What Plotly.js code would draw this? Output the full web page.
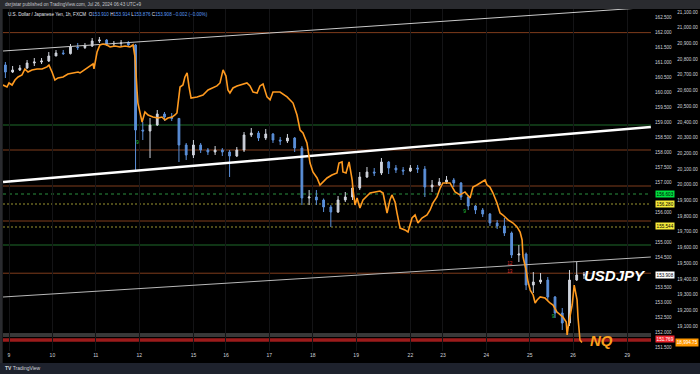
<!DOCTYPE html>
<html>
<head>
<meta charset="utf-8">
<script src="https://cdn.plot.ly/plotly-3.0.1.min.js"></script>
<style>
html,body{margin:0;padding:0;background:#000;}
#chart{width:700px;height:374px;}
</style>
</head>
<body>
<div id="chart"></div>
<script>
// ---- X axis: hourly bar index (TradingView-style, weekend removed), day labels ----
const dayTickBars = [0,24,48,72,102,120,144,168,192,222,240,264,288,312,342];
const dayTickLabels = ['9','10','11','12','15','16','17','18','19','22','23','24','25','26','29'];

// ---- Price-scale tick values (those hidden behind price boxes are left out, as in the reference) ----
const jpyTicks = [151.5,152.0,152.5,153.0,153.5,154.5,155.0,156.0,157.0,157.5,158.0,158.5,159.0,159.5,160.0,160.5,161.0,161.5,162.0,162.5];
const nqTicks = [19100,19200,19300,19400,19500,19600,19700,19800,19900,20000,20100,20200,20300,20400,20500,20600,20700,20800,20900,21000,21100];

// ---- USDJPY, 4h candles (bar index) ----
const jpyTime = [-2,2,6,10,14,18,22,26,30,34,38,42,46,50,54,58,62,66,70,74,78,82,86,90,94,98,102,106,110,114,118,122,126,130,134,138,142,146,150,154,158,162,166,170,174,178,182,186,190,194,198,202,206,210,214,218,222,226,230,234,238,242,246,250,254,258,262,266,270,274,278,282,286,290,294,298,302,306,310,314,318];
const jpyOpen = [160.900,160.667,160.733,160.800,160.967,161.000,161.033,161.200,161.300,161.280,
161.500,161.480,161.533,161.700,161.733,161.600,161.620,161.633,161.567,158.733,
158.700,158.900,159.267,159.167,159.120,158.233,157.900,158.233,158.067,158.000,
158.067,158.000,157.867,158.067,158.567,158.633,158.467,158.600,158.400,158.367,
158.467,158.133,156.467,156.500,156.400,156.167,156.000,156.400,156.500,156.800,
157.167,157.333,157.300,157.667,157.467,157.400,157.367,157.467,157.433,156.833,
156.900,157.000,157.067,156.967,156.500,156.200,156.067,155.933,155.633,155.533,
155.300,154.567,154.600,153.567,153.667,153.733,153.167,152.633,152.300,153.733,153.900];
const jpyHigh = [161.000,160.867,160.900,161.067,161.133,161.133,161.333,161.400,161.400,161.600,
161.633,161.633,161.800,161.833,161.767,161.700,161.733,161.700,161.600,159.000,
159.133,159.400,159.333,159.300,159.133,158.300,158.400,158.300,158.133,158.200,
158.133,158.067,158.167,158.667,158.800,158.700,158.767,158.633,158.500,158.600,
158.500,158.200,156.733,156.733,156.450,156.233,156.533,156.667,156.900,157.333,
157.500,157.467,157.800,157.700,157.567,157.500,157.567,157.567,157.533,157.067,
157.133,157.200,157.133,157.000,156.550,156.233,156.133,155.967,155.733,155.800,
155.350,154.900,154.650,154.000,153.967,153.833,153.200,152.800,154.067,154.333,154.000];
const jpyLow = [160.467,160.633,160.700,160.767,160.867,160.933,161.000,161.200,161.233,161.250,
161.400,161.433,161.500,161.633,161.533,161.500,161.533,161.500,157.400,158.400,
157.800,158.867,159.033,159.033,157.667,157.733,157.800,157.967,157.900,157.900,
157.867,157.167,157.833,158.000,158.500,158.367,158.400,158.300,158.233,158.300,
158.000,156.233,156.233,156.233,156.000,155.500,155.967,156.333,156.400,156.733,
157.133,157.200,157.233,157.267,157.300,157.233,157.333,157.300,156.500,156.667,
156.867,156.933,156.833,156.400,156.067,155.933,155.833,155.533,155.433,155.200,
154.467,154.333,153.400,153.300,153.600,153.067,152.467,152.067,152.200,153.700,153.767];
const jpyClose = [160.667,160.733,160.800,160.967,161.000,161.033,161.200,161.300,161.280,161.500,
161.480,161.533,161.700,161.733,161.600,161.620,161.633,161.567,158.733,158.700,
158.900,159.267,159.167,159.120,158.233,157.900,158.233,158.067,158.000,158.067,
158.000,157.867,158.067,158.567,158.633,158.467,158.600,158.400,158.367,158.467,
158.133,156.467,156.500,156.400,156.167,156.000,156.400,156.500,156.800,157.167,
157.333,157.300,157.667,157.467,157.400,157.367,157.467,157.433,156.833,156.900,
157.000,157.067,156.967,156.500,156.200,156.067,155.933,155.633,155.533,155.300,
154.567,154.600,153.567,153.667,153.733,153.167,152.633,152.300,153.733,153.900,153.908];

// ---- NQ (Nasdaq 100 futures) overlay line ----
const nqTime = [-3.3,-1.1,0,1.7,3.3,5.0,7.2,8.8,10.5,12.7,15.5,18.3,21.0,22.1,23.8,25.4,27.1,29.9,32.6,35.4,38.2,39.3,40.9,43.1,44.8,46.5,47.0,48.7,50.3,52.0,54.2,55.9,58.6,61.4,64.2,66.9,68.6,69.7,70.8,71.3,72.5,73.6,75.2,76.9,79.6,82.4,84.6,86.3,87.9,90.2,91.8,92.9,94.6,96.2,97.3,98.5,99.6,100.7,104.0,107.3,110.1,112.3,115.0,116.7,118.4,120.0,121.1,122.2,123.9,126.1,128.9,131.6,133.3,135.0,137.2,138.8,140.5,142.7,144.4,146.0,149.9,153.8,157.1,159.3,161.0,162.6,164.8,166.5,168.1,170.4,172.0,173.7,175.9,178.6,181.4,182.5,184.2,184.7,186.4,188.1,189.8,190.3,191.4,192.5,194.1,195.8,199.7,205.2,206.9,209.1,210.7,211.8,213.5,214.6,216.3,219.0,220.7,222.9,224.6,226.2,228.4,231.2,232.9,234.5,236.7,238.5,240.0,243.9,246.7,249.4,252.2,255.0,256.6,258.8,260.5,263.3,264.4,266.0,267.7,269.9,271.6,273.2,276.0,278.8,281.0,282.7,283.8,284.3,286.0,287.1,288.3,289.9,291.0,292.1,293.8,296.5,299.2,300.9,303.1,304.8,306.4,308.2,308.7,309.7,311.5,312.6,313.1,314.2,314.7,315.8,316.9];
const nqValue = [20635,20622,20648,20635,20667,20686,20699,20737,20718,20731,20737,20737,20750,20762,20718,20667,20680,20686,20705,20712,20718,20712,20724,20743,20756,20769,20737,20845,20890,20896,20890,20877,20883,20877,20883,20877,20890,20813,20603,20520,20457,20399,20463,20444,20431,20425,20431,20412,20425,20431,20444,20457,20622,20635,20686,20712,20622,20552,20559,20571,20603,20616,20629,20648,20731,20692,20603,20584,20616,20629,20641,20648,20629,20590,20584,20629,20641,20559,20540,20590,20590,20559,20520,20444,20348,20329,20266,20138,20081,20043,19998,20017,20043,20062,20075,20138,20145,20081,20075,20145,20030,19966,19871,19915,19852,19903,19947,19960,19947,19820,19903,19935,19890,19820,19724,19712,19699,19788,19807,19756,19788,19807,19839,19884,19922,19979,20011,20011,19954,19935,19954,19915,19985,19998,20011,20030,19998,19985,19947,19884,19820,19807,19776,19756,19731,19699,19648,19540,19457,19380,19329,19298,19247,19266,19285,19278,19247,19234,19189,19170,19157,19126,19043,19126,19234,19361,19329,19266,19157,19011,18995];

// ---- Drawn levels (USDJPY price) ----
const brownLevels = [161.98, 158.067, 156.867, 155.70, 153.96];
const greenSolidLevels = [158.90, 154.90];
const greenDashLevels = [156.60];
const yellowDotLevels = [156.267, 155.50];
const greyLevels = [151.933, 151.867];
const redLevels = [151.733];

// ---- Trend lines: [bar, price] endpoints ----
const trendTopX = [-3.3, 355], trendTopY = [161.367, 162.824];
const trendMidX = [-3.3, 355], trendMidY = [157.000, 158.836];
const trendLowX = [-3.3, 355], trendLowY = [153.167, 154.500];

// ---- TD count marks ----
const tdGreenX = [71, 252, 301], tdGreenY = [158.30, 156.00, 152.50], tdGreenText = ['9','9','9'];
const tdRedX = [277, 277], tdRedY = [154.28, 154.02], tdRedText = ['12','13'];

// ---- Price-scale labels ----
const jpyBoxes = [
  {v:156.603, t:'156.603', bg:'#00e040', fc:'#000'},
  {v:156.280, t:'156.280', bg:'#f5ea3b', fc:'#000'},
  {v:155.544, t:'155.544', bg:'#f5ea3b', fc:'#000'},
  {v:153.908, t:'153.908', bg:'#ffffff', fc:'#000'},
  {v:151.769, t:'151.769', bg:'#f0262f', fc:'#fff'}
];
const nqLast = 18994.75, nqLastText = '18,994.75';

const FONT = '"Liberation Sans", Arial, sans-serif';
const traces = [];

function lineTrace(x, y, color, width, dash){
  return {type:'scatter', mode:'lines', x:x, y:y, xaxis:'x', yaxis:'y',
    line:{color:color, width:width, dash:dash||'solid'}, hoverinfo:'skip', showlegend:false};
}
traces.push(lineTrace(trendTopX, trendTopY, '#c9c9c9', 1));
traces.push(lineTrace(trendLowX, trendLowY, '#b8b8b8', 1));

traces.push({
  type:'candlestick', x:jpyTime, open:jpyOpen, high:jpyHigh, low:jpyLow, close:jpyClose,
  xaxis:'x', yaxis:'y', showlegend:false, hoverinfo:'skip', whiskerwidth:0,
  increasing:{line:{color:'#cfd3dc', width:1}, fillcolor:'#cfd3dc'},
  decreasing:{line:{color:'#5b8fd8', width:1}, fillcolor:'#5b8fd8'}
});
traces.push(lineTrace(trendMidX, trendMidY, '#ffffff', 2.4));
traces.push({type:'scatter', mode:'lines', x:nqTime, y:nqValue, xaxis:'x', yaxis:'y2',
  line:{color:'#ff9a1f', width:1.6}, hoverinfo:'skip', showlegend:false});
traces.push({type:'scatter', mode:'text', x:tdGreenX, y:tdGreenY, text:tdGreenText, xaxis:'x', yaxis:'y',
  textfont:{color:'#22c33a', size:5, family:FONT}, hoverinfo:'skip', showlegend:false});
traces.push({type:'scatter', mode:'text', x:tdRedX, y:tdRedY, text:tdRedText, xaxis:'x', yaxis:'y',
  textfont:{color:'#e03030', size:4.5, family:FONT}, hoverinfo:'skip', showlegend:false});

const shapes = [];
function hline(v, color, width, dash){
  shapes.push({type:'line', xref:'x domain', x0:0, x1:1, yref:'y', y0:v, y1:v,
    line:{color:color, width:width, dash:dash||'solid'}, layer:'below'});
}
brownLevels.forEach(v=>hline(v, '#7e3c1c', 1));
greenSolidLevels.forEach(v=>hline(v, '#1f6b2a', 1));
greenDashLevels.forEach(v=>hline(v, '#2a8f3f', 1, '3px,3px'));
yellowDotLevels.forEach(v=>hline(v, '#9a9530', 1, '2px,2px'));
greyLevels.forEach(v=>hline(v, '#8e8e8e', 0.8));
redLevels.forEach(v=>hline(v, '#9c1b1b', 3.5));
// frame strips (paper coordinates)
shapes.push({type:'rect', xref:'paper', yref:'paper', x0:-0.01, x1:1.01, y0:1.0, y1:1.03, fillcolor:'#2a2b2f', line:{width:0}, layer:'above'});
shapes.push({type:'rect', xref:'paper', yref:'paper', x0:-0.01, x1:1.01, y0:-0.07, y1:-0.0351, fillcolor:'#1e222d', line:{width:0}, layer:'above'});
shapes.push({type:'rect', xref:'paper', yref:'paper', x0:-0.0045, x1:-0.0005, y0:-0.0351, y1:1.0, fillcolor:'#2a2b2f', line:{width:0}, layer:'above'});

const annotations = [];
annotations.push({xref:'paper', yref:'paper', x:0.0, y:1.0146, xanchor:'left', yanchor:'middle', showarrow:false,
  text:'dsrjtstar published on TradingView.com, Jul 26, 2024 06:43 UTC+9', font:{size:4.6, color:'#c4c6cc', family:FONT}});
const blue = '#5b9cf6';
annotations.push({xref:'paper', yref:'paper', x:0.0045, y:0.9825, xanchor:'left', yanchor:'middle', showarrow:false,
  text:'U.S. Dollar / Japanese Yen, 1h, FXCM  O<span style="color:'+blue+'">153.910</span> H<span style="color:'+blue+'">153.914</span> L<span style="color:'+blue+'">153.876</span> C<span style="color:'+blue+'">153.908</span> <span style="color:'+blue+'">−0.002 (−0.00%)</span>',
  font:{size:4.6, color:'#e0e3eb', family:FONT}});
annotations.push({xref:'x', yref:'y', x:335, y:153.87, showarrow:false, xanchor:'center', yanchor:'middle',
  text:'<b><i>USDJPY</i></b>', font:{size:15, color:'#ffffff', family:FONT}});
annotations.push({xref:'x', yref:'y2', x:327.5, y:19005, showarrow:false, xanchor:'center', yanchor:'middle',
  text:'<b><i>NQ</i></b>', font:{size:15, color:'#f9a01e', family:FONT}});
jpyBoxes.forEach(b=>{
  annotations.push({xref:'paper', yref:'y', x:0.9375, y:b.v, xanchor:'left', yanchor:'middle', showarrow:false,
    text:b.t, bgcolor:b.bg, borderpad:0.6, font:{size:4.6, color:b.fc, family:FONT}});
});
annotations.push({xref:'paper', yref:'y2', x:0.9665, y:nqLast, xanchor:'left', yanchor:'middle', showarrow:false,
  text:nqLastText, bgcolor:'#ff9800', borderpad:0.8, font:{size:4.6, color:'#ffffff', family:FONT}});
annotations.push({xref:'paper', yref:'paper', x:0.0, y:-0.051, xanchor:'left', yanchor:'middle', showarrow:false,
  text:'<b>TV</b> TradingView', font:{size:5, color:'#d1d4dc', family:FONT}});

const layout = {
  width:700, height:374,
  margin:{l:3, r:2, t:9, b:23, pad:0},
  paper_bgcolor:'#000000', plot_bgcolor:'#000000',
  font:{family:FONT, color:'#d1d4dc'},
  showlegend:false,
  boxgap:0.65,
  xaxis:{domain:[0,0.9324], range:[-3.32,355.1], tickvals:dayTickBars, ticktext:dayTickLabels,
    showgrid:true, gridcolor:'#141416', gridwidth:1, zeroline:false, showline:false, ticks:'',
    tickfont:{size:5, color:'#d1d4dc'}, rangeslider:{visible:false}, fixedrange:true},
  yaxis:{side:'right', anchor:'x', range:[151.367,162.767], tickvals:jpyTicks, tickformat:'.3f',
    showgrid:false, zeroline:false, showline:false, ticks:'', ticklabelstandoff:3,
    tickfont:{size:4.6, color:'#d1d4dc'}, fixedrange:true},
  yaxis2:{overlaying:'y', side:'right', anchor:'free', position:0.9645, range:[18941,21119], tickvals:nqTicks,
    tickformat:',.2f', showgrid:false, zeroline:false, showline:false, ticks:'', ticklabelstandoff:3,
    tickfont:{size:4.6, color:'#d1d4dc'}, fixedrange:true},
  shapes:shapes, annotations:annotations
};
Plotly.newPlot('chart', traces, layout, {staticPlot:true, displayModeBar:false});
</script>
</body>
</html>
